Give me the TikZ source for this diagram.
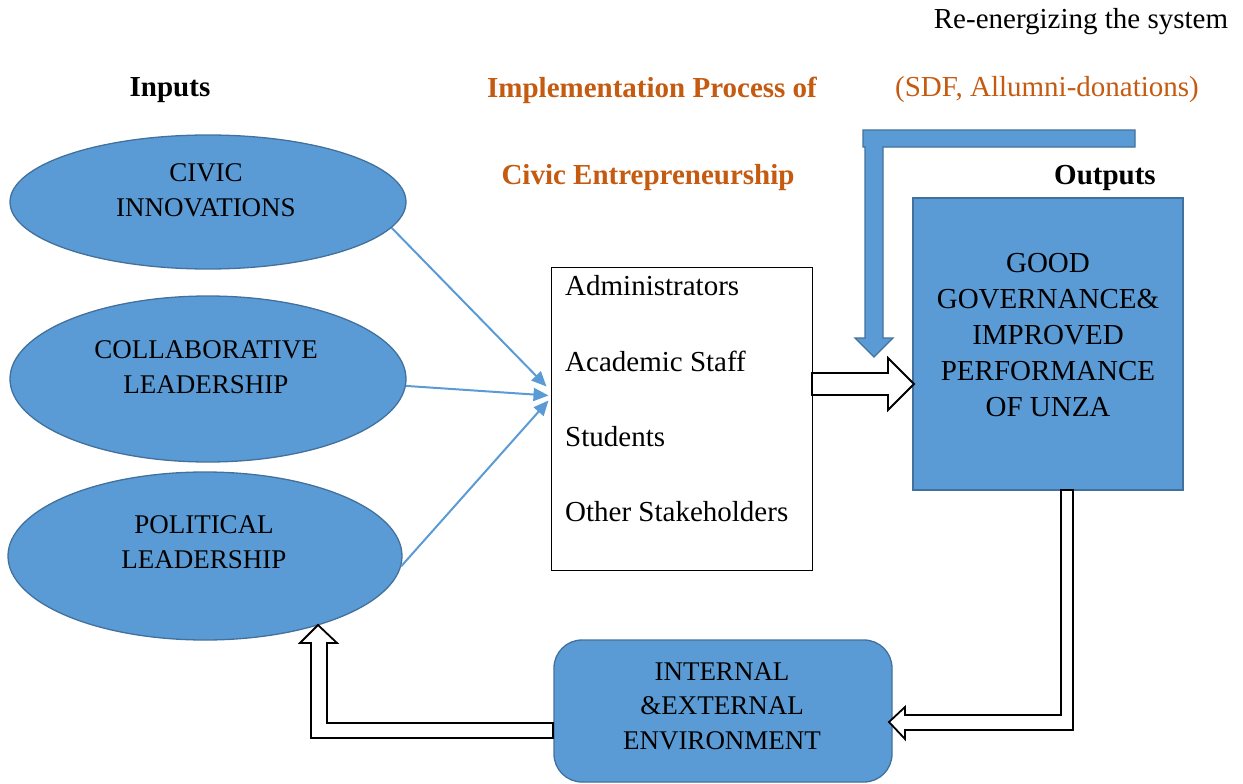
\documentclass[tikz,border=0pt]{standalone}
\usepackage{fontspec}
\setmainfont{Liberation Serif}
\usetikzlibrary{shapes.geometric,arrows.meta}
\definecolor{fillblue}{HTML}{5B9BD5}
\definecolor{edgeblue}{HTML}{41719C}
\definecolor{rust}{HTML}{C55A11}
\begin{document}
\begin{tikzpicture}[x=1pt,y=-1pt,
  blob/.style={ellipse, draw=edgeblue, fill=fillblue, line width=1.3pt, inner sep=0pt},
  bluebox/.style={draw=edgeblue, fill=fillblue, line width=1.3pt, inner sep=0pt},
  captxt/.style={font=\fontsize{27}{35}\selectfont, align=center, inner sep=0pt},
  bodytxt/.style={font=\fontsize{29}{36}\selectfont, inner sep=0pt},
  headtxt/.style={font=\fontsize{29}{36}\selectfont\bfseries, inner sep=0pt},
  feed/.style={draw=fillblue, line width=2pt, -{Triangle[length=15pt,width=13pt]}},
  hollow/.style={draw=black, fill=white, line width=1.8pt, line join=miter}]
\useasboundingbox (0,0) rectangle (1243,784);

% headings
\node[bodytxt] (reen) at (1081,22) {Re-energizing the system};
\node[bodytxt, text=rust] (sdf) at (1047,90) {(SDF, Allumni-donations)};
\node[headtxt, text=rust] (impl) at (652,90) {Implementation Process of};
\node[headtxt, text=rust] (civic) at (648,178) {Civic Entrepreneurship};
\node[headtxt] (inputs) at (170,90) {Inputs};
\node[headtxt] (outputs) at (1105,178) {Outputs};

% inputs
\node[blob, minimum width=396pt, minimum height=134pt] (e1) at (208,202) {};
\node[blob, minimum width=396pt, minimum height=166pt] (e2) at (208,379) {};
\node[blob, minimum width=394pt, minimum height=168pt] (e3) at (205,556) {};
\node[captxt] (t1) at (206,190) {CIVIC\\INNOVATIONS};
\node[captxt] (t2) at (206,367) {COLLABORATIVE\\LEADERSHIP};
\node[captxt] (t3) at (204,542) {POLITICAL\\LEADERSHIP};

% implementation actors
\node[draw=black, line width=1pt, minimum width=261pt, minimum height=303pt, inner sep=0pt] (actors) at (681.5,418.5) {};
\node[bodytxt, anchor=west] (a1) at (565,286) {Administrators};
\node[bodytxt, anchor=west] (a2) at (565,361) {Academic Staff};
\node[bodytxt, anchor=west] (a3) at (565,437) {Students};
\node[bodytxt, anchor=west] (a4) at (565,512) {Other Stakeholders};

\draw[feed] (e1.-8) -- ([xshift=-4pt,yshift=32pt]actors.west);
\draw[feed] (e2.-2) -- ([xshift=-2pt,yshift=23pt]actors.west);
\draw[feed] (e3.-3) -- ([xshift=-2pt,yshift=18pt]actors.west);

% outputs
\node[bluebox, minimum width=270pt, minimum height=292pt] (out) at (1048,344) {};
\node[bodytxt, align=center] (outtxt) at (1048,335) {GOOD\\GOVERNANCE\&\\IMPROVED\\PERFORMANCE\\OF UNZA};

% environment
\node[bluebox, rounded corners=28pt, minimum width=338pt, minimum height=142pt] (env) at (723,711) {};
\node[captxt, font=\fontsize{27}{34.5}\selectfont] (envtxt) at (722,706) {INTERNAL\\\&EXTERNAL\\ENVIRONMENT};

% block arrows
\draw[hollow] (812,373) -- (888,373) -- (888,358) -- (914,384) -- (888,410) -- (888,395) -- (812,395) -- cycle;
\draw[bluebox] (863,130) -- (1135,130) -- (1135,147) -- (883,147) -- (883,338) -- (893,338)
  -- (874,357) -- (855,338) -- (865,338) -- (865,147) -- (863,147) -- cycle;
\draw[hollow] (1061,490) -- (1073,490) -- (1073,730) -- (905,730) -- (905,739) -- (889,722)
  -- (905,707) -- (905,715) -- (1061,715) -- cycle;
\draw[hollow] (553,723) -- (553,738) -- (311,738) -- (311,643) -- (300,643) -- (318,625)
  -- (337,643) -- (327,643) -- (327,723) -- cycle;
\end{tikzpicture}
\end{document}
